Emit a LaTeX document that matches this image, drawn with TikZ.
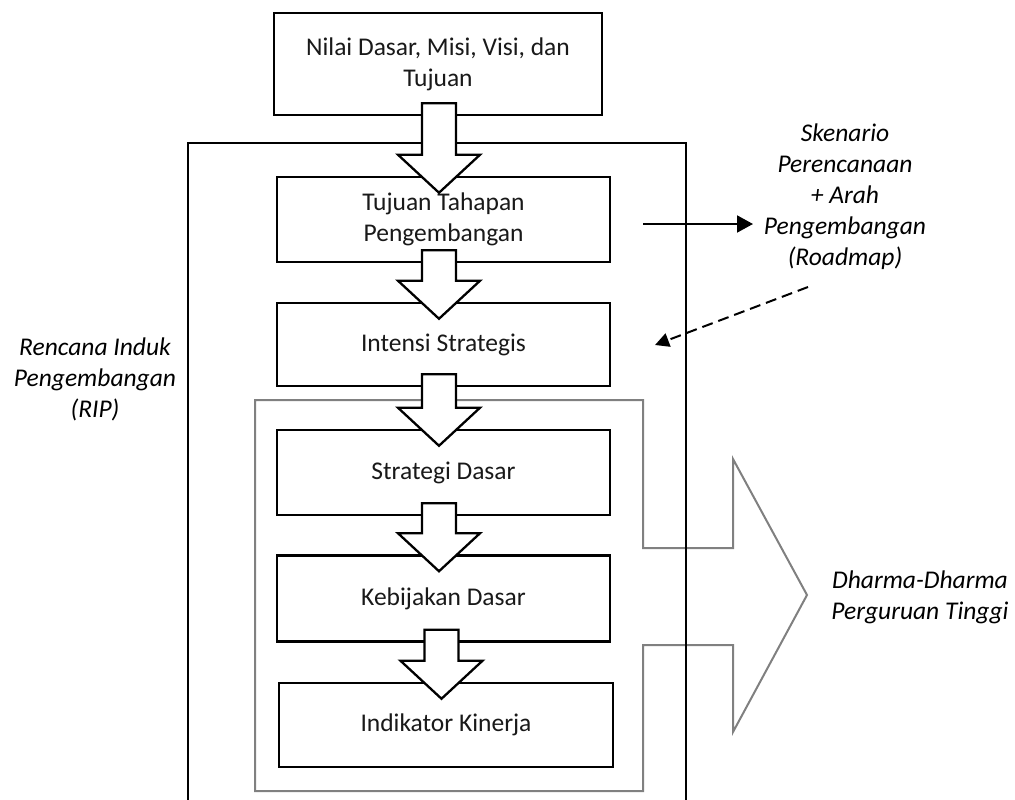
\documentclass[tikz,border=0pt]{standalone}
\usepackage{fontspec}
\setmainfont{Carlito}
\usetikzlibrary{calc,arrows.meta}

\begin{document}
\begin{tikzpicture}[x=1pt,y=-1pt,
    box/.style={draw,line width=2.5pt,fill=white,align=center,inner sep=0pt,
      minimum width=333pt,minimum height=85pt,text=black!90,
      font=\fontsize{25.5}{31}\selectfont},
    note/.style={align=center,inner sep=0pt,font=\fontsize{25.5}{31}\selectfont\itshape},
    blockarr/.style={draw,line width=2.3pt,fill=white,line join=miter},
    flow/.style={line width=2pt,-{Triangle[length=16pt,width=17pt]}}]
            \useasboundingbox (0,0) rectangle (1015,800);

            % big grey arrow to the dharma
            \draw[black!50,line width=2pt] (255,400) -- (643,400) -- (643,548) -- (733,548)
                -- (733,459) -- (807,595) -- (733,732) -- (733,645) -- (643,645)
                -- (643,791) -- (255,791) -- cycle;

            % RIP frame, open at the bottom
            \draw[line width=2.3pt] (188,802) -- (188,143) -- (686,143) -- (686,802);

            \node[box,minimum width=328pt,minimum height=102pt] (nilai) at (438,64)
                {Nilai Dasar, Misi, Visi, dan\\Tujuan};
            \node[box] (tahap) at (443.5,219.5) {Tujuan Tahapan\\Pengembangan};
            \node[box,minimum height=83pt] (intensi) at (443.5,344.5) {Intensi Strategis};
            \node[box] (strat) at (443.5,472.5) {Strategi Dasar};
            \node[box,minimum height=86pt] (bijak) at (443.5,598.5) {Kebijakan Dasar};
            \node[box,minimum width=334pt,minimum height=84pt] (indik) at (446,725) {Indikator Kinerja};

            % block arrows
                 \foreach \a/\b in {nilai/tahap,tahap/intensi,intensi/strat,strat/bijak,bijak/indik}
                     \draw[blockarr] let \p1=(\a.south), \p2=(\b.north) in
                         (\x2-21.5pt,\y1+13pt) -- (\x2+12.5pt,\y1+13pt) -- (\x2+12.5pt,\y2+21pt)
                         -- (\x2+36.5pt,\y2+21pt) -- (\x2-4.5pt,\y2-17pt) -- (\x2-45.5pt,\y2+21pt)
                         -- (\x2-21.5pt,\y2+21pt) -- cycle;

            \node[note] (skenario) at (845,197) {Skenario\\Perencanaan\\+ Arah\\Pengembangan\\(Roadmap)};
            \node[note] (rip) at (95,379) {Rencana Induk\\Pengembangan\\(RIP)};
            \node[note] (dharma) at (920,597) {Dharma-Dharma\\Perguruan Tinggi};

            % roadmap arrows
            \coordinate (rmfrom) at (643,224);
            \coordinate (rmto) at (753,224);
            \coordinate (dashfrom) at (808,287);
            \coordinate (dashto) at (655,345);
            \draw[flow] (rmfrom) -- (rmto);
            \draw[flow,dash pattern=on 11pt off 6pt,-{Triangle[length=14pt,width=14pt]}] (dashfrom) -- (dashto);
\end{tikzpicture}
\end{document}
